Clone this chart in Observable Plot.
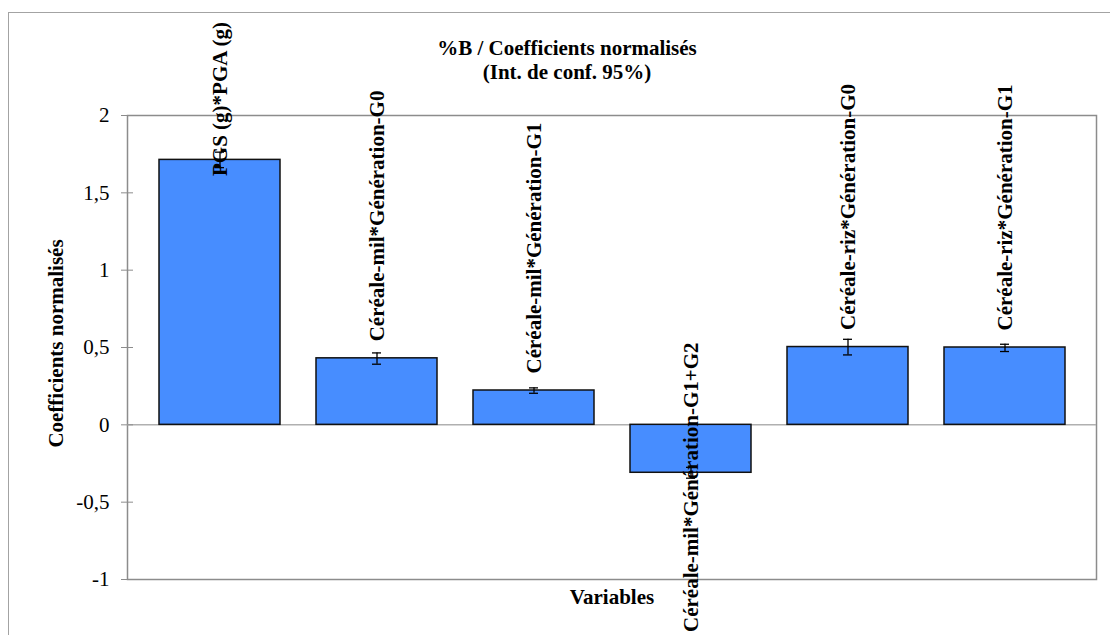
<!DOCTYPE html>
<html>
<head>
<meta charset="utf-8">
<script src="https://cdn.jsdelivr.net/npm/d3@7"></script>
<script src="https://cdn.jsdelivr.net/npm/@observablehq/plot@0.6"></script>
<style>
  html, body { margin: 0; padding: 0; background: white; overflow: hidden; }
  #wrap { position: relative; width: 1110px; height: 635px; }
  #outer { position: absolute; left: 8px; top: 12px; width: 1200px; height: 700px;
           border-left: 1.5px solid #a3a3a3; border-top: 1.5px solid #a3a3a3; pointer-events: none; }
  #chart { position: absolute; left: 0; top: 0; }
  #chart svg, #chart svg text {
    font-family: "Liberation Serif", "Tinos", "Times New Roman", "Times", "Nimbus Roman", "Nimbus Roman No9 L",
                 "FreeSerif", "Noto Serif", "DejaVu Serif", serif !important;
  }
</style>
</head>
<body>
<div id="wrap"><div id="chart"></div><div id="outer"></div></div>
<script>
const categories = [
  "PGS (g)*PGA (g)",
  "Céréale-mil*Génération-G0",
  "Céréale-mil*Génération-G1",
  "Céréale-mil*Génération-G1+G2",
  "Céréale-riz*Génération-G0",
  "Céréale-riz*Génération-G1"
];
const values = [1.713, 0.43, 0.222, -0.31, 0.503, 0.50];
const lower  = [1.663, 0.392, 0.204, -0.345, 0.452, 0.474];
const upper  = [1.763, 0.465, 0.239, -0.275, 0.553, 0.521];
const yTicks = [-1, -0.5, 0, 0.5, 1, 1.5, 2];
const titleText = "%B / Coefficients normalisés\n(Int. de conf. 95%)";
const yLabel = "Coefficients normalisés";
const xLabel = "Variables";

const data = categories.map((c, i) => ({cat: c, value: values[i], lo: lower[i], hi: upper[i]}));

const W = 1110, H = 635, ML = 127, MR = 14, MT = 115, MB = 56;
const plotW = W - ML - MR;
const grey = "#8c8c8c";

const chart = Plot.plot({
  width: W, height: H,
  marginLeft: ML, marginRight: MR, marginTop: MT, marginBottom: MB,
  style: {fontSize: "21px", background: "transparent", color: "black"},
  x: {domain: categories, paddingInner: 0.232, paddingOuter: 0.19, axis: null},
  y: {domain: [-1, 2]},
  marks: [
    Plot.frame({stroke: grey, strokeWidth: 1.5}),
    Plot.ruleY([0], {stroke: "#b0b0b0", strokeWidth: 1.5}),
    Plot.axisY({ticks: yTicks, tickSize: 6, tickPadding: 12, label: null,
      tickFormat: d => String(d).replace(".", ","), stroke: grey, fill: "black", fontSize: 21}),
    Plot.tickY(yTicks, {y: d => d, insetRight: plotW - 6, stroke: grey}),
    Plot.barY(data, {x: "cat", y: "value", fill: "#478dff", stroke: "#111", strokeWidth: 1.5}),
    Plot.ruleX(data, {x: "cat", y1: "lo", y2: "hi", stroke: "black", strokeWidth: 1.3}),
    Plot.tickY(data, {x: "cat", y: "lo", insetLeft: 56, insetRight: 56, stroke: "black", strokeWidth: 1.3}),
    Plot.tickY(data, {x: "cat", y: "hi", insetLeft: 56, insetRight: 56, stroke: "black", strokeWidth: 1.3}),
    Plot.text(data.filter(d => d.value >= 0), {x: "cat", y: "value", text: "cat", rotate: -90,
      textAnchor: "start", lineAnchor: "middle", dy: -17, fontWeight: "bold", fill: "black"}),
    Plot.text(data.filter(d => d.value < 0), {x: "cat", y: "value", text: "cat", rotate: -90,
      textAnchor: "end", lineAnchor: "middle", dy: 17, fontWeight: "bold", fill: "black"}),
    Plot.text([titleText], {frameAnchor: "top", dx: -45, dy: -37, lineAnchor: "bottom", lineHeight: 1.1,
      textAnchor: "middle", fontWeight: "bold", fill: "black"}),
    Plot.text([yLabel], {frameAnchor: "left", rotate: -90, dx: -65, dy: -4, lineAnchor: "bottom",
      textAnchor: "middle", fontWeight: "bold", fill: "black"}),
    Plot.text([xLabel], {frameAnchor: "bottom", dy: 24, lineAnchor: "bottom", textAnchor: "middle",
      fontWeight: "bold", fill: "black"})
  ]
});
document.getElementById("chart").appendChild(chart);

// Keep data labels inside the chart area (like the spreadsheet does)
const svgRect = chart.getBoundingClientRect();
const minTop = 22, maxBottom = 632;
chart.querySelectorAll("text").forEach(t => {
  if (!categories.includes(t.textContent)) return;
  const r = t.getBoundingClientRect();
  const top = r.top - svgRect.top, bottom = r.bottom - svgRect.top;
  let shift = 0;
  if (top < minTop) shift = minTop - top;
  else if (bottom > maxBottom) shift = maxBottom - bottom;
  if (shift) t.setAttribute("transform", `translate(0,${shift}) ` + (t.getAttribute("transform") || ""));
});
</script>
</body>
</html>
